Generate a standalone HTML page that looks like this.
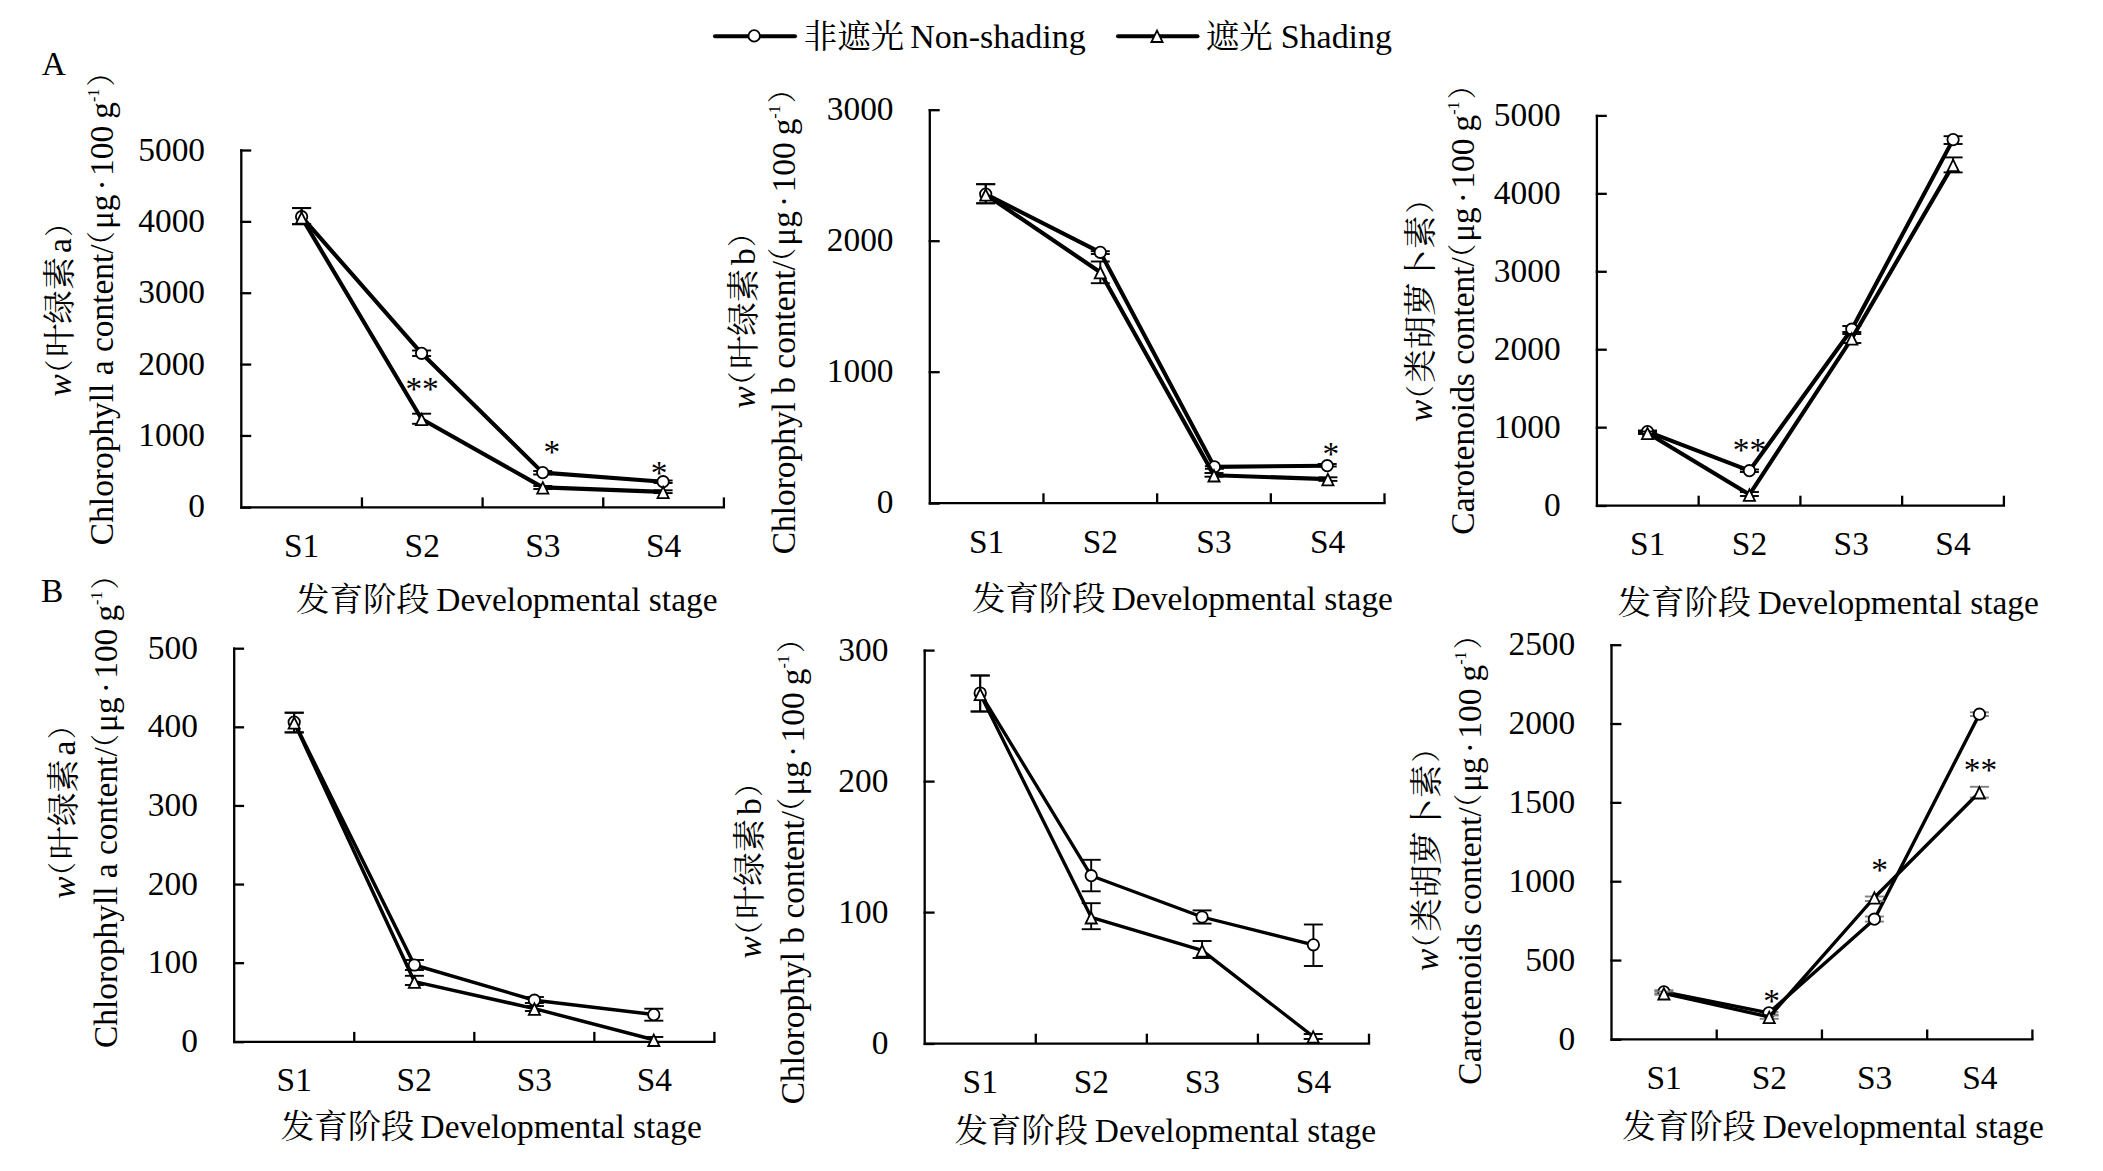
<!DOCTYPE html>
<html><head><meta charset="utf-8"><title>Figure</title>
<style>
html,body{margin:0;padding:0;background:#fff;overflow:hidden;}
svg{display:block;}
svg{font-family:'Liberation Serif',serif;fill:#000;}
</style></head>
<body>
<svg width="2103" height="1171" viewBox="0 0 2103 1171">
<rect width="2103" height="1171" fill="#fff"/>
<line x1="241.3" y1="149.35" x2="241.3" y2="508.45" stroke="#000" stroke-width="2.3" stroke-linecap="butt"/>
<line x1="240.15" y1="507.7" x2="251.2" y2="507.7" stroke="#000" stroke-width="2.3" stroke-linecap="butt"/>
<text x="205.07" y="517.4" font-size="33.44" text-anchor="end" >0</text>
<line x1="240.15" y1="435.94" x2="251.2" y2="435.94" stroke="#000" stroke-width="2.3" stroke-linecap="butt"/>
<text x="205.07" y="446.04" font-size="33.44" text-anchor="end" >1000</text>
<line x1="240.15" y1="364.58" x2="251.2" y2="364.58" stroke="#000" stroke-width="2.3" stroke-linecap="butt"/>
<text x="205.07" y="374.68" font-size="33.44" text-anchor="end" >2000</text>
<line x1="240.15" y1="293.22" x2="251.2" y2="293.22" stroke="#000" stroke-width="2.3" stroke-linecap="butt"/>
<text x="205.07" y="303.32" font-size="33.44" text-anchor="end" >3000</text>
<line x1="240.15" y1="221.86" x2="251.2" y2="221.86" stroke="#000" stroke-width="2.3" stroke-linecap="butt"/>
<text x="205.07" y="231.96" font-size="33.44" text-anchor="end" >4000</text>
<line x1="240.15" y1="150.5" x2="251.2" y2="150.5" stroke="#000" stroke-width="2.3" stroke-linecap="butt"/>
<text x="205.07" y="160.6" font-size="33.44" text-anchor="end" >5000</text>
<line x1="241.3" y1="507.3" x2="725.05" y2="507.3" stroke="#000" stroke-width="2.3" stroke-linecap="butt"/>
<line x1="361.95" y1="507.3" x2="361.95" y2="497.4" stroke="#000" stroke-width="2.3" stroke-linecap="butt"/>
<line x1="482.6" y1="507.3" x2="482.6" y2="497.4" stroke="#000" stroke-width="2.3" stroke-linecap="butt"/>
<line x1="603.25" y1="507.3" x2="603.25" y2="497.4" stroke="#000" stroke-width="2.3" stroke-linecap="butt"/>
<line x1="723.9" y1="507.3" x2="723.9" y2="497.4" stroke="#000" stroke-width="2.3" stroke-linecap="butt"/>
<text x="301.62" y="556.9" font-size="33.44" text-anchor="middle" >S1</text>
<text x="422.27" y="556.9" font-size="33.44" text-anchor="middle" >S2</text>
<text x="542.92" y="556.9" font-size="33.44" text-anchor="middle" >S3</text>
<text x="663.58" y="556.9" font-size="33.44" text-anchor="middle" >S4</text>
<text x="296.1" y="611.3" font-size="33.44" text-anchor="start" font-family="'Noto Serif CJK SC','Liberation Serif',serif" >发育阶段</text>
<text x="436.34" y="611.3" font-size="33.44" text-anchor="start" >Developmental stage</text>
<text transform="translate(71.3,0) rotate(-90)"><tspan x="-396.4" y="0" font-family="'Liberation Serif',serif" font-size="33.44" font-style="italic">w</tspan><tspan x="-388.48" y="-1.5" font-family="'Noto Serif CJK SC','Liberation Serif',serif" font-size="29">（</tspan><tspan x="-357.1" y="0" font-family="'Noto Serif CJK SC','Liberation Serif',serif" font-size="33.44">叶绿素</tspan><tspan x="-252.98" y="0" font-family="'Liberation Serif',serif" font-size="33.44">a</tspan><tspan x="-236.94" y="-1.5" font-family="'Noto Serif CJK SC','Liberation Serif',serif" font-size="29">）</tspan></text>
<text transform="translate(113.4,0) rotate(-90)"><tspan x="-545.17" y="0" font-family="'Liberation Serif',serif" font-size="33.44">Chlorophyll a content/</tspan><tspan x="-260.14" y="-1.5" font-family="'Noto Serif CJK SC','Liberation Serif',serif" font-size="29">（</tspan><tspan x="-229.07" y="0" font-family="'Liberation Serif',serif" font-size="33.44">μg</tspan><tspan x="-190.45" y="0" font-family="'Liberation Serif',serif" font-size="33.44">·</tspan><tspan x="-175.9" y="0" font-family="'Liberation Serif',serif" font-size="33.44">100</tspan><tspan x="-118.7" y="0" font-family="'Liberation Serif',serif" font-size="33.44">g</tspan><tspan x="-102.05" y="-14.7" font-family="'Liberation Serif',serif" font-size="16">-1</tspan><tspan x="-86.59" y="-1.5" font-family="'Noto Serif CJK SC','Liberation Serif',serif" font-size="29">）</tspan></text>
<line x1="301.6" y1="208.1" x2="301.6" y2="224.2" stroke="#000" stroke-width="1.9" stroke-linecap="butt"/>
<line x1="292.1" y1="208.1" x2="311.1" y2="208.1" stroke="#000" stroke-width="1.9" stroke-linecap="butt"/>
<line x1="292.1" y1="224.2" x2="311.1" y2="224.2" stroke="#000" stroke-width="1.9" stroke-linecap="butt"/>
<line x1="421.6" y1="350.5" x2="421.6" y2="356" stroke="#000" stroke-width="1.9" stroke-linecap="butt"/>
<line x1="412.1" y1="350.5" x2="431.1" y2="350.5" stroke="#000" stroke-width="1.9" stroke-linecap="butt"/>
<line x1="412.1" y1="356" x2="431.1" y2="356" stroke="#000" stroke-width="1.9" stroke-linecap="butt"/>
<line x1="542.7" y1="471" x2="542.7" y2="474.5" stroke="#000" stroke-width="1.9" stroke-linecap="butt"/>
<line x1="533.2" y1="471" x2="552.2" y2="471" stroke="#000" stroke-width="1.9" stroke-linecap="butt"/>
<line x1="533.2" y1="474.5" x2="552.2" y2="474.5" stroke="#000" stroke-width="1.9" stroke-linecap="butt"/>
<line x1="663.1" y1="480.5" x2="663.1" y2="483" stroke="#000" stroke-width="1.9" stroke-linecap="butt"/>
<line x1="653.6" y1="480.5" x2="672.6" y2="480.5" stroke="#000" stroke-width="1.9" stroke-linecap="butt"/>
<line x1="653.6" y1="483" x2="672.6" y2="483" stroke="#000" stroke-width="1.9" stroke-linecap="butt"/>
<polyline points="301.6,216.7 421.6,353.3 542.7,472.6 663.1,481.7" fill="none" stroke="#000" stroke-width="4.1" stroke-linejoin="round" stroke-linecap="butt"/>
<circle cx="301.6" cy="216.7" r="5.7" fill="#fff" stroke="#000" stroke-width="1.8"/>
<circle cx="421.6" cy="353.3" r="5.7" fill="#fff" stroke="#000" stroke-width="1.8"/>
<circle cx="542.7" cy="472.6" r="5.7" fill="#fff" stroke="#000" stroke-width="1.8"/>
<circle cx="663.1" cy="481.7" r="5.7" fill="#fff" stroke="#000" stroke-width="1.8"/>
<line x1="301.6" y1="208.1" x2="301.6" y2="224.2" stroke="#000" stroke-width="1.9" stroke-linecap="butt"/>
<line x1="292.1" y1="208.1" x2="311.1" y2="208.1" stroke="#000" stroke-width="1.9" stroke-linecap="butt"/>
<line x1="292.1" y1="224.2" x2="311.1" y2="224.2" stroke="#000" stroke-width="1.9" stroke-linecap="butt"/>
<line x1="421.6" y1="413.7" x2="421.6" y2="423.8" stroke="#000" stroke-width="1.9" stroke-linecap="butt"/>
<line x1="412.1" y1="413.7" x2="431.1" y2="413.7" stroke="#000" stroke-width="1.9" stroke-linecap="butt"/>
<line x1="412.1" y1="423.8" x2="431.1" y2="423.8" stroke="#000" stroke-width="1.9" stroke-linecap="butt"/>
<line x1="542.8" y1="486" x2="542.8" y2="489" stroke="#000" stroke-width="1.9" stroke-linecap="butt"/>
<line x1="533.3" y1="486" x2="552.3" y2="486" stroke="#000" stroke-width="1.9" stroke-linecap="butt"/>
<line x1="533.3" y1="489" x2="552.3" y2="489" stroke="#000" stroke-width="1.9" stroke-linecap="butt"/>
<line x1="663.1" y1="490.3" x2="663.1" y2="493.1" stroke="#000" stroke-width="1.9" stroke-linecap="butt"/>
<line x1="653.6" y1="490.3" x2="672.6" y2="490.3" stroke="#000" stroke-width="1.9" stroke-linecap="butt"/>
<line x1="653.6" y1="493.1" x2="672.6" y2="493.1" stroke="#000" stroke-width="1.9" stroke-linecap="butt"/>
<polyline points="301.6,217.5 421.6,419 542.8,487.4 663.1,491.9" fill="none" stroke="#000" stroke-width="4.1" stroke-linejoin="round" stroke-linecap="butt"/>
<polygon points="301.6,212.3 307.2,223.7 296,223.7" fill="#fff" stroke="#000" stroke-width="1.8" stroke-linejoin="miter"/>
<polygon points="421.6,413.8 427.2,425.2 416,425.2" fill="#fff" stroke="#000" stroke-width="1.8" stroke-linejoin="miter"/>
<polygon points="542.8,482.2 548.4,493.6 537.2,493.6" fill="#fff" stroke="#000" stroke-width="1.8" stroke-linejoin="miter"/>
<polygon points="663.1,486.7 668.7,498.1 657.5,498.1" fill="#fff" stroke="#000" stroke-width="1.8" stroke-linejoin="miter"/>
<text x="422.1" y="399.52" font-size="33.44" text-anchor="middle" >**</text>
<text x="551.9" y="462.72" font-size="33.44" text-anchor="middle" >*</text>
<text x="659.2" y="483.57" font-size="33.44" text-anchor="middle" >*</text>
<line x1="929.8" y1="109.05" x2="929.8" y2="504.35" stroke="#000" stroke-width="2.3" stroke-linecap="butt"/>
<line x1="928.65" y1="503.6" x2="939.7" y2="503.6" stroke="#000" stroke-width="2.3" stroke-linecap="butt"/>
<text x="893.57" y="513.3" font-size="33.44" text-anchor="end" >0</text>
<line x1="928.65" y1="372.2" x2="939.7" y2="372.2" stroke="#000" stroke-width="2.3" stroke-linecap="butt"/>
<text x="893.57" y="382.3" font-size="33.44" text-anchor="end" >1000</text>
<line x1="928.65" y1="241.2" x2="939.7" y2="241.2" stroke="#000" stroke-width="2.3" stroke-linecap="butt"/>
<text x="893.57" y="251.3" font-size="33.44" text-anchor="end" >2000</text>
<line x1="928.65" y1="110.2" x2="939.7" y2="110.2" stroke="#000" stroke-width="2.3" stroke-linecap="butt"/>
<text x="893.57" y="120.3" font-size="33.44" text-anchor="end" >3000</text>
<line x1="929.8" y1="503.2" x2="1385.65" y2="503.2" stroke="#000" stroke-width="2.3" stroke-linecap="butt"/>
<line x1="1043.47" y1="503.2" x2="1043.47" y2="493.3" stroke="#000" stroke-width="2.3" stroke-linecap="butt"/>
<line x1="1157.15" y1="503.2" x2="1157.15" y2="493.3" stroke="#000" stroke-width="2.3" stroke-linecap="butt"/>
<line x1="1270.83" y1="503.2" x2="1270.83" y2="493.3" stroke="#000" stroke-width="2.3" stroke-linecap="butt"/>
<line x1="1384.5" y1="503.2" x2="1384.5" y2="493.3" stroke="#000" stroke-width="2.3" stroke-linecap="butt"/>
<text x="986.64" y="552.8" font-size="33.44" text-anchor="middle" >S1</text>
<text x="1100.31" y="552.8" font-size="33.44" text-anchor="middle" >S2</text>
<text x="1213.99" y="552.8" font-size="33.44" text-anchor="middle" >S3</text>
<text x="1327.66" y="552.8" font-size="33.44" text-anchor="middle" >S4</text>
<text x="972" y="609.5" font-size="33.44" text-anchor="start" font-family="'Noto Serif CJK SC','Liberation Serif',serif" >发育阶段</text>
<text x="1111.74" y="609.5" font-size="33.44" text-anchor="start" >Developmental stage</text>
<text transform="translate(754.5,0) rotate(-90)"><tspan x="-408.4" y="0" font-family="'Liberation Serif',serif" font-size="33.44" font-style="italic">w</tspan><tspan x="-400.48" y="-1.5" font-family="'Noto Serif CJK SC','Liberation Serif',serif" font-size="29">（</tspan><tspan x="-369.1" y="0" font-family="'Noto Serif CJK SC','Liberation Serif',serif" font-size="33.44">叶绿素</tspan><tspan x="-264.98" y="0" font-family="'Liberation Serif',serif" font-size="33.44">b</tspan><tspan x="-247.06" y="-1.5" font-family="'Noto Serif CJK SC','Liberation Serif',serif" font-size="29">）</tspan></text>
<text transform="translate(794.7,0) rotate(-90)"><tspan x="-554.37" y="0" font-family="'Liberation Serif',serif" font-size="33.44">Chlorophyl b content/</tspan><tspan x="-276.75" y="-1.5" font-family="'Noto Serif CJK SC','Liberation Serif',serif" font-size="29">（</tspan><tspan x="-245.68" y="0" font-family="'Liberation Serif',serif" font-size="33.44">μg</tspan><tspan x="-207.07" y="0" font-family="'Liberation Serif',serif" font-size="33.44">·</tspan><tspan x="-192.51" y="0" font-family="'Liberation Serif',serif" font-size="33.44">100</tspan><tspan x="-135.31" y="0" font-family="'Liberation Serif',serif" font-size="33.44">g</tspan><tspan x="-118.67" y="-14.7" font-family="'Liberation Serif',serif" font-size="16">-1</tspan><tspan x="-103.2" y="-1.5" font-family="'Noto Serif CJK SC','Liberation Serif',serif" font-size="29">）</tspan></text>
<line x1="985.7" y1="184.2" x2="985.7" y2="203.3" stroke="#000" stroke-width="1.9" stroke-linecap="butt"/>
<line x1="976.2" y1="184.2" x2="995.2" y2="184.2" stroke="#000" stroke-width="1.9" stroke-linecap="butt"/>
<line x1="976.2" y1="203.3" x2="995.2" y2="203.3" stroke="#000" stroke-width="1.9" stroke-linecap="butt"/>
<line x1="1100.3" y1="251.2" x2="1100.3" y2="254" stroke="#000" stroke-width="1.9" stroke-linecap="butt"/>
<line x1="1090.8" y1="251.2" x2="1109.8" y2="251.2" stroke="#000" stroke-width="1.9" stroke-linecap="butt"/>
<line x1="1090.8" y1="254" x2="1109.8" y2="254" stroke="#000" stroke-width="1.9" stroke-linecap="butt"/>
<line x1="1214.4" y1="466.2" x2="1214.4" y2="468.8" stroke="#000" stroke-width="1.9" stroke-linecap="butt"/>
<line x1="1204.9" y1="466.2" x2="1223.9" y2="466.2" stroke="#000" stroke-width="1.9" stroke-linecap="butt"/>
<line x1="1204.9" y1="468.8" x2="1223.9" y2="468.8" stroke="#000" stroke-width="1.9" stroke-linecap="butt"/>
<line x1="1327.2" y1="464" x2="1327.2" y2="466.5" stroke="#000" stroke-width="1.9" stroke-linecap="butt"/>
<line x1="1317.7" y1="464" x2="1336.7" y2="464" stroke="#000" stroke-width="1.9" stroke-linecap="butt"/>
<line x1="1317.7" y1="466.5" x2="1336.7" y2="466.5" stroke="#000" stroke-width="1.9" stroke-linecap="butt"/>
<polyline points="985.7,194.1 1100.3,252.3 1214.4,466.9 1327.2,465.7" fill="none" stroke="#000" stroke-width="4.1" stroke-linejoin="round" stroke-linecap="butt"/>
<circle cx="985.7" cy="194.1" r="5.7" fill="#fff" stroke="#000" stroke-width="1.8"/>
<circle cx="1100.3" cy="252.3" r="5.7" fill="#fff" stroke="#000" stroke-width="1.8"/>
<circle cx="1214.4" cy="466.9" r="5.7" fill="#fff" stroke="#000" stroke-width="1.8"/>
<circle cx="1327.2" cy="465.7" r="5.7" fill="#fff" stroke="#000" stroke-width="1.8"/>
<line x1="985.7" y1="184.2" x2="985.7" y2="203.3" stroke="#000" stroke-width="1.9" stroke-linecap="butt"/>
<line x1="976.2" y1="184.2" x2="995.2" y2="184.2" stroke="#000" stroke-width="1.9" stroke-linecap="butt"/>
<line x1="976.2" y1="203.3" x2="995.2" y2="203.3" stroke="#000" stroke-width="1.9" stroke-linecap="butt"/>
<line x1="1100.3" y1="261.5" x2="1100.3" y2="283.2" stroke="#000" stroke-width="1.9" stroke-linecap="butt"/>
<line x1="1090.8" y1="261.5" x2="1109.8" y2="261.5" stroke="#000" stroke-width="1.9" stroke-linecap="butt"/>
<line x1="1090.8" y1="283.2" x2="1109.8" y2="283.2" stroke="#000" stroke-width="1.9" stroke-linecap="butt"/>
<line x1="1214" y1="473" x2="1214" y2="476.7" stroke="#000" stroke-width="1.9" stroke-linecap="butt"/>
<line x1="1204.5" y1="473" x2="1223.5" y2="473" stroke="#000" stroke-width="1.9" stroke-linecap="butt"/>
<line x1="1204.5" y1="476.7" x2="1223.5" y2="476.7" stroke="#000" stroke-width="1.9" stroke-linecap="butt"/>
<line x1="1327.9" y1="477.3" x2="1327.9" y2="480.9" stroke="#000" stroke-width="1.9" stroke-linecap="butt"/>
<line x1="1318.4" y1="477.3" x2="1337.4" y2="477.3" stroke="#000" stroke-width="1.9" stroke-linecap="butt"/>
<line x1="1318.4" y1="480.9" x2="1337.4" y2="480.9" stroke="#000" stroke-width="1.9" stroke-linecap="butt"/>
<polyline points="985.7,194.5 1100.3,272.2 1214,475.3 1327.9,479.1" fill="none" stroke="#000" stroke-width="4.1" stroke-linejoin="round" stroke-linecap="butt"/>
<polygon points="985.7,189.3 991.3,200.7 980.1,200.7" fill="#fff" stroke="#000" stroke-width="1.8" stroke-linejoin="miter"/>
<polygon points="1100.3,267 1105.9,278.4 1094.7,278.4" fill="#fff" stroke="#000" stroke-width="1.8" stroke-linejoin="miter"/>
<polygon points="1214,470.1 1219.6,481.5 1208.4,481.5" fill="#fff" stroke="#000" stroke-width="1.8" stroke-linejoin="miter"/>
<polygon points="1327.9,473.9 1333.5,485.3 1322.3,485.3" fill="#fff" stroke="#000" stroke-width="1.8" stroke-linejoin="miter"/>
<text x="1330.9" y="465.07" font-size="33.44" text-anchor="middle" >*</text>
<line x1="1596.9" y1="114.75" x2="1596.9" y2="506.75" stroke="#000" stroke-width="2.3" stroke-linecap="butt"/>
<line x1="1595.75" y1="506" x2="1606.8" y2="506" stroke="#000" stroke-width="2.3" stroke-linecap="butt"/>
<text x="1560.67" y="515.7" font-size="33.44" text-anchor="end" >0</text>
<line x1="1595.75" y1="427.66" x2="1606.8" y2="427.66" stroke="#000" stroke-width="2.3" stroke-linecap="butt"/>
<text x="1560.67" y="437.76" font-size="33.44" text-anchor="end" >1000</text>
<line x1="1595.75" y1="349.72" x2="1606.8" y2="349.72" stroke="#000" stroke-width="2.3" stroke-linecap="butt"/>
<text x="1560.67" y="359.82" font-size="33.44" text-anchor="end" >2000</text>
<line x1="1595.75" y1="271.78" x2="1606.8" y2="271.78" stroke="#000" stroke-width="2.3" stroke-linecap="butt"/>
<text x="1560.67" y="281.88" font-size="33.44" text-anchor="end" >3000</text>
<line x1="1595.75" y1="193.84" x2="1606.8" y2="193.84" stroke="#000" stroke-width="2.3" stroke-linecap="butt"/>
<text x="1560.67" y="203.94" font-size="33.44" text-anchor="end" >4000</text>
<line x1="1595.75" y1="115.9" x2="1606.8" y2="115.9" stroke="#000" stroke-width="2.3" stroke-linecap="butt"/>
<text x="1560.67" y="126" font-size="33.44" text-anchor="end" >5000</text>
<line x1="1596.9" y1="505.6" x2="2005.05" y2="505.6" stroke="#000" stroke-width="2.3" stroke-linecap="butt"/>
<line x1="1698.65" y1="505.6" x2="1698.65" y2="495.7" stroke="#000" stroke-width="2.3" stroke-linecap="butt"/>
<line x1="1800.4" y1="505.6" x2="1800.4" y2="495.7" stroke="#000" stroke-width="2.3" stroke-linecap="butt"/>
<line x1="1902.15" y1="505.6" x2="1902.15" y2="495.7" stroke="#000" stroke-width="2.3" stroke-linecap="butt"/>
<line x1="2003.9" y1="505.6" x2="2003.9" y2="495.7" stroke="#000" stroke-width="2.3" stroke-linecap="butt"/>
<text x="1647.78" y="555.2" font-size="33.44" text-anchor="middle" >S1</text>
<text x="1749.53" y="555.2" font-size="33.44" text-anchor="middle" >S2</text>
<text x="1851.28" y="555.2" font-size="33.44" text-anchor="middle" >S3</text>
<text x="1953.03" y="555.2" font-size="33.44" text-anchor="middle" >S4</text>
<text x="1617.6" y="613.9" font-size="33.44" text-anchor="start" font-family="'Noto Serif CJK SC','Liberation Serif',serif" >发育阶段</text>
<text x="1757.64" y="613.9" font-size="33.44" text-anchor="start" >Developmental stage</text>
<text transform="translate(1432.1,0) rotate(-90)"><tspan x="-422.1" y="0" font-family="'Liberation Serif',serif" font-size="33.44" font-style="italic">w</tspan><tspan x="-414.18" y="-1.5" font-family="'Noto Serif CJK SC','Liberation Serif',serif" font-size="29">（</tspan><tspan x="-382.8" y="0" font-family="'Noto Serif CJK SC','Liberation Serif',serif" font-size="33.44">类胡萝卜素</tspan><tspan x="-213.6" y="-1.5" font-family="'Noto Serif CJK SC','Liberation Serif',serif" font-size="29">）</tspan></text>
<text transform="translate(1474,0) rotate(-90)"><tspan x="-534.67" y="0" font-family="'Liberation Serif',serif" font-size="33.44">Carotenoids content/</tspan><tspan x="-272.87" y="-1.5" font-family="'Noto Serif CJK SC','Liberation Serif',serif" font-size="29">（</tspan><tspan x="-241.81" y="0" font-family="'Liberation Serif',serif" font-size="33.44">μg</tspan><tspan x="-203.19" y="0" font-family="'Liberation Serif',serif" font-size="33.44">·</tspan><tspan x="-188.63" y="0" font-family="'Liberation Serif',serif" font-size="33.44">100</tspan><tspan x="-131.43" y="0" font-family="'Liberation Serif',serif" font-size="33.44">g</tspan><tspan x="-114.79" y="-14.7" font-family="'Liberation Serif',serif" font-size="16">-1</tspan><tspan x="-99.32" y="-1.5" font-family="'Noto Serif CJK SC','Liberation Serif',serif" font-size="29">）</tspan></text>
<line x1="1647.5" y1="430.5" x2="1647.5" y2="433" stroke="#000" stroke-width="1.9" stroke-linecap="butt"/>
<line x1="1638" y1="430.5" x2="1657" y2="430.5" stroke="#000" stroke-width="1.9" stroke-linecap="butt"/>
<line x1="1638" y1="433" x2="1657" y2="433" stroke="#000" stroke-width="1.9" stroke-linecap="butt"/>
<line x1="1749.4" y1="469.5" x2="1749.4" y2="472" stroke="#000" stroke-width="1.9" stroke-linecap="butt"/>
<line x1="1739.9" y1="469.5" x2="1758.9" y2="469.5" stroke="#000" stroke-width="1.9" stroke-linecap="butt"/>
<line x1="1739.9" y1="472" x2="1758.9" y2="472" stroke="#000" stroke-width="1.9" stroke-linecap="butt"/>
<line x1="1851.8" y1="326" x2="1851.8" y2="332" stroke="#000" stroke-width="1.9" stroke-linecap="butt"/>
<line x1="1842.3" y1="326" x2="1861.3" y2="326" stroke="#000" stroke-width="1.9" stroke-linecap="butt"/>
<line x1="1842.3" y1="332" x2="1861.3" y2="332" stroke="#000" stroke-width="1.9" stroke-linecap="butt"/>
<line x1="1953.1" y1="136.2" x2="1953.1" y2="144" stroke="#000" stroke-width="1.9" stroke-linecap="butt"/>
<line x1="1943.6" y1="136.2" x2="1962.6" y2="136.2" stroke="#000" stroke-width="1.9" stroke-linecap="butt"/>
<line x1="1943.6" y1="144" x2="1962.6" y2="144" stroke="#000" stroke-width="1.9" stroke-linecap="butt"/>
<polyline points="1647.5,431.6 1749.4,470.7 1851.8,329.2 1953.1,139.6" fill="none" stroke="#000" stroke-width="4.1" stroke-linejoin="round" stroke-linecap="butt"/>
<circle cx="1647.5" cy="431.6" r="5.7" fill="#fff" stroke="#000" stroke-width="1.8"/>
<circle cx="1749.4" cy="470.7" r="5.7" fill="#fff" stroke="#000" stroke-width="1.8"/>
<circle cx="1851.8" cy="329.2" r="5.7" fill="#fff" stroke="#000" stroke-width="1.8"/>
<circle cx="1953.1" cy="139.6" r="5.7" fill="#fff" stroke="#000" stroke-width="1.8"/>
<line x1="1647.5" y1="431.5" x2="1647.5" y2="434" stroke="#000" stroke-width="1.9" stroke-linecap="butt"/>
<line x1="1638" y1="431.5" x2="1657" y2="431.5" stroke="#000" stroke-width="1.9" stroke-linecap="butt"/>
<line x1="1638" y1="434" x2="1657" y2="434" stroke="#000" stroke-width="1.9" stroke-linecap="butt"/>
<line x1="1749.4" y1="492" x2="1749.4" y2="496" stroke="#000" stroke-width="1.9" stroke-linecap="butt"/>
<line x1="1739.9" y1="492" x2="1758.9" y2="492" stroke="#000" stroke-width="1.9" stroke-linecap="butt"/>
<line x1="1739.9" y1="496" x2="1758.9" y2="496" stroke="#000" stroke-width="1.9" stroke-linecap="butt"/>
<line x1="1851.8" y1="334" x2="1851.8" y2="343" stroke="#000" stroke-width="1.9" stroke-linecap="butt"/>
<line x1="1842.3" y1="334" x2="1861.3" y2="334" stroke="#000" stroke-width="1.9" stroke-linecap="butt"/>
<line x1="1842.3" y1="343" x2="1861.3" y2="343" stroke="#000" stroke-width="1.9" stroke-linecap="butt"/>
<line x1="1953.1" y1="157.4" x2="1953.1" y2="172.4" stroke="#000" stroke-width="1.9" stroke-linecap="butt"/>
<line x1="1943.6" y1="157.4" x2="1962.6" y2="157.4" stroke="#000" stroke-width="1.9" stroke-linecap="butt"/>
<line x1="1943.6" y1="172.4" x2="1962.6" y2="172.4" stroke="#000" stroke-width="1.9" stroke-linecap="butt"/>
<polyline points="1647.5,433 1749.4,494.6 1851.8,338.5 1953.1,164.9" fill="none" stroke="#000" stroke-width="4.1" stroke-linejoin="round" stroke-linecap="butt"/>
<polygon points="1647.5,427.8 1653.1,439.2 1641.9,439.2" fill="#fff" stroke="#000" stroke-width="1.8" stroke-linejoin="miter"/>
<polygon points="1749.4,489.4 1755,500.8 1743.8,500.8" fill="#fff" stroke="#000" stroke-width="1.8" stroke-linejoin="miter"/>
<polygon points="1851.8,333.3 1857.4,344.7 1846.2,344.7" fill="#fff" stroke="#000" stroke-width="1.8" stroke-linejoin="miter"/>
<polygon points="1953.1,159.7 1958.7,171.1 1947.5,171.1" fill="#fff" stroke="#000" stroke-width="1.8" stroke-linejoin="miter"/>
<text x="1749.4" y="460.87" font-size="33.44" text-anchor="middle" >**</text>
<line x1="234.2" y1="647.55" x2="234.2" y2="1042.95" stroke="#000" stroke-width="2.3" stroke-linecap="butt"/>
<line x1="233.05" y1="1042.2" x2="244.1" y2="1042.2" stroke="#000" stroke-width="2.3" stroke-linecap="butt"/>
<text x="197.97" y="1051.9" font-size="33.44" text-anchor="end" >0</text>
<line x1="233.05" y1="963.18" x2="244.1" y2="963.18" stroke="#000" stroke-width="2.3" stroke-linecap="butt"/>
<text x="197.97" y="973.28" font-size="33.44" text-anchor="end" >100</text>
<line x1="233.05" y1="884.56" x2="244.1" y2="884.56" stroke="#000" stroke-width="2.3" stroke-linecap="butt"/>
<text x="197.97" y="894.66" font-size="33.44" text-anchor="end" >200</text>
<line x1="233.05" y1="805.94" x2="244.1" y2="805.94" stroke="#000" stroke-width="2.3" stroke-linecap="butt"/>
<text x="197.97" y="816.04" font-size="33.44" text-anchor="end" >300</text>
<line x1="233.05" y1="727.32" x2="244.1" y2="727.32" stroke="#000" stroke-width="2.3" stroke-linecap="butt"/>
<text x="197.97" y="737.42" font-size="33.44" text-anchor="end" >400</text>
<line x1="233.05" y1="648.7" x2="244.1" y2="648.7" stroke="#000" stroke-width="2.3" stroke-linecap="butt"/>
<text x="197.97" y="658.8" font-size="33.44" text-anchor="end" >500</text>
<line x1="234.2" y1="1041.8" x2="715.55" y2="1041.8" stroke="#000" stroke-width="2.3" stroke-linecap="butt"/>
<line x1="354.25" y1="1041.8" x2="354.25" y2="1031.9" stroke="#000" stroke-width="2.3" stroke-linecap="butt"/>
<line x1="474.3" y1="1041.8" x2="474.3" y2="1031.9" stroke="#000" stroke-width="2.3" stroke-linecap="butt"/>
<line x1="594.35" y1="1041.8" x2="594.35" y2="1031.9" stroke="#000" stroke-width="2.3" stroke-linecap="butt"/>
<line x1="714.4" y1="1041.8" x2="714.4" y2="1031.9" stroke="#000" stroke-width="2.3" stroke-linecap="butt"/>
<text x="294.22" y="1091.4" font-size="33.44" text-anchor="middle" >S1</text>
<text x="414.27" y="1091.4" font-size="33.44" text-anchor="middle" >S2</text>
<text x="534.33" y="1091.4" font-size="33.44" text-anchor="middle" >S3</text>
<text x="654.38" y="1091.4" font-size="33.44" text-anchor="middle" >S4</text>
<text x="280.8" y="1138.1" font-size="33.44" text-anchor="start" font-family="'Noto Serif CJK SC','Liberation Serif',serif" >发育阶段</text>
<text x="420.54" y="1138.1" font-size="33.44" text-anchor="start" >Developmental stage</text>
<text transform="translate(74.6,0) rotate(-90)"><tspan x="-898.8" y="0" font-family="'Liberation Serif',serif" font-size="33.44" font-style="italic">w</tspan><tspan x="-890.88" y="-1.5" font-family="'Noto Serif CJK SC','Liberation Serif',serif" font-size="29">（</tspan><tspan x="-859.5" y="0" font-family="'Noto Serif CJK SC','Liberation Serif',serif" font-size="33.44">叶绿素</tspan><tspan x="-755.38" y="0" font-family="'Liberation Serif',serif" font-size="33.44">a</tspan><tspan x="-739.34" y="-1.5" font-family="'Noto Serif CJK SC','Liberation Serif',serif" font-size="29">）</tspan></text>
<text transform="translate(117.1,0) rotate(-90)"><tspan x="-1048.07" y="0" font-family="'Liberation Serif',serif" font-size="33.44">Chlorophyll a content/</tspan><tspan x="-763.04" y="-1.5" font-family="'Noto Serif CJK SC','Liberation Serif',serif" font-size="29">（</tspan><tspan x="-731.97" y="0" font-family="'Liberation Serif',serif" font-size="33.44">μg</tspan><tspan x="-693.35" y="0" font-family="'Liberation Serif',serif" font-size="33.44">·</tspan><tspan x="-678.8" y="0" font-family="'Liberation Serif',serif" font-size="33.44">100</tspan><tspan x="-621.6" y="0" font-family="'Liberation Serif',serif" font-size="33.44">g</tspan><tspan x="-604.95" y="-14.7" font-family="'Liberation Serif',serif" font-size="16">-1</tspan><tspan x="-589.49" y="-1.5" font-family="'Noto Serif CJK SC','Liberation Serif',serif" font-size="29">）</tspan></text>
<line x1="294.2" y1="712.7" x2="294.2" y2="732.4" stroke="#000" stroke-width="1.9" stroke-linecap="butt"/>
<line x1="284.7" y1="712.7" x2="303.7" y2="712.7" stroke="#000" stroke-width="1.9" stroke-linecap="butt"/>
<line x1="284.7" y1="732.4" x2="303.7" y2="732.4" stroke="#000" stroke-width="1.9" stroke-linecap="butt"/>
<line x1="414.4" y1="960" x2="414.4" y2="970" stroke="#000" stroke-width="1.9" stroke-linecap="butt"/>
<line x1="404.9" y1="960" x2="423.9" y2="960" stroke="#000" stroke-width="1.9" stroke-linecap="butt"/>
<line x1="404.9" y1="970" x2="423.9" y2="970" stroke="#000" stroke-width="1.9" stroke-linecap="butt"/>
<line x1="534.4" y1="997" x2="534.4" y2="1003" stroke="#000" stroke-width="1.9" stroke-linecap="butt"/>
<line x1="524.9" y1="997" x2="543.9" y2="997" stroke="#000" stroke-width="1.9" stroke-linecap="butt"/>
<line x1="524.9" y1="1003" x2="543.9" y2="1003" stroke="#000" stroke-width="1.9" stroke-linecap="butt"/>
<line x1="653.8" y1="1008.7" x2="653.8" y2="1020.7" stroke="#000" stroke-width="1.9" stroke-linecap="butt"/>
<line x1="644.3" y1="1008.7" x2="663.3" y2="1008.7" stroke="#000" stroke-width="1.9" stroke-linecap="butt"/>
<line x1="644.3" y1="1020.7" x2="663.3" y2="1020.7" stroke="#000" stroke-width="1.9" stroke-linecap="butt"/>
<polyline points="294.2,722.1 414.4,965 534.4,1000.2 653.8,1014.6" fill="none" stroke="#000" stroke-width="3.5" stroke-linejoin="round" stroke-linecap="butt"/>
<circle cx="294.2" cy="722.1" r="5.7" fill="#fff" stroke="#000" stroke-width="1.8"/>
<circle cx="414.4" cy="965" r="5.7" fill="#fff" stroke="#000" stroke-width="1.8"/>
<circle cx="534.4" cy="1000.2" r="5.7" fill="#fff" stroke="#000" stroke-width="1.8"/>
<circle cx="653.8" cy="1014.6" r="5.7" fill="#fff" stroke="#000" stroke-width="1.8"/>
<line x1="294.2" y1="712.7" x2="294.2" y2="732.4" stroke="#000" stroke-width="1.9" stroke-linecap="butt"/>
<line x1="284.7" y1="712.7" x2="303.7" y2="712.7" stroke="#000" stroke-width="1.9" stroke-linecap="butt"/>
<line x1="284.7" y1="732.4" x2="303.7" y2="732.4" stroke="#000" stroke-width="1.9" stroke-linecap="butt"/>
<line x1="414.4" y1="975.8" x2="414.4" y2="985" stroke="#000" stroke-width="1.9" stroke-linecap="butt"/>
<line x1="404.9" y1="975.8" x2="423.9" y2="975.8" stroke="#000" stroke-width="1.9" stroke-linecap="butt"/>
<line x1="404.9" y1="985" x2="423.9" y2="985" stroke="#000" stroke-width="1.9" stroke-linecap="butt"/>
<line x1="534.4" y1="1006" x2="534.4" y2="1011" stroke="#000" stroke-width="1.9" stroke-linecap="butt"/>
<line x1="524.9" y1="1006" x2="543.9" y2="1006" stroke="#000" stroke-width="1.9" stroke-linecap="butt"/>
<line x1="524.9" y1="1011" x2="543.9" y2="1011" stroke="#000" stroke-width="1.9" stroke-linecap="butt"/>
<line x1="653.8" y1="1037" x2="653.8" y2="1042" stroke="#000" stroke-width="1.9" stroke-linecap="butt"/>
<line x1="644.3" y1="1037" x2="663.3" y2="1037" stroke="#000" stroke-width="1.9" stroke-linecap="butt"/>
<line x1="644.3" y1="1042" x2="663.3" y2="1042" stroke="#000" stroke-width="1.9" stroke-linecap="butt"/>
<polyline points="294.2,722.5 414.4,981.6 534.4,1008.6 653.8,1039.8" fill="none" stroke="#000" stroke-width="3.5" stroke-linejoin="round" stroke-linecap="butt"/>
<polygon points="294.2,717.3 299.8,728.7 288.6,728.7" fill="#fff" stroke="#000" stroke-width="1.8" stroke-linejoin="miter"/>
<polygon points="414.4,976.4 420,987.8 408.8,987.8" fill="#fff" stroke="#000" stroke-width="1.8" stroke-linejoin="miter"/>
<polygon points="534.4,1003.4 540,1014.8 528.8,1014.8" fill="#fff" stroke="#000" stroke-width="1.8" stroke-linejoin="miter"/>
<polygon points="653.8,1034.6 659.4,1046 648.2,1046" fill="#fff" stroke="#000" stroke-width="1.8" stroke-linejoin="miter"/>
<line x1="924.7" y1="649.45" x2="924.7" y2="1044.75" stroke="#000" stroke-width="2.3" stroke-linecap="butt"/>
<line x1="923.55" y1="1044" x2="934.6" y2="1044" stroke="#000" stroke-width="2.3" stroke-linecap="butt"/>
<text x="888.47" y="1053.7" font-size="33.44" text-anchor="end" >0</text>
<line x1="923.55" y1="912.6" x2="934.6" y2="912.6" stroke="#000" stroke-width="2.3" stroke-linecap="butt"/>
<text x="888.47" y="922.7" font-size="33.44" text-anchor="end" >100</text>
<line x1="923.55" y1="781.6" x2="934.6" y2="781.6" stroke="#000" stroke-width="2.3" stroke-linecap="butt"/>
<text x="888.47" y="791.7" font-size="33.44" text-anchor="end" >200</text>
<line x1="923.55" y1="650.6" x2="934.6" y2="650.6" stroke="#000" stroke-width="2.3" stroke-linecap="butt"/>
<text x="888.47" y="660.7" font-size="33.44" text-anchor="end" >300</text>
<line x1="924.7" y1="1043.6" x2="1370.15" y2="1043.6" stroke="#000" stroke-width="2.3" stroke-linecap="butt"/>
<line x1="1035.78" y1="1043.6" x2="1035.78" y2="1033.7" stroke="#000" stroke-width="2.3" stroke-linecap="butt"/>
<line x1="1146.85" y1="1043.6" x2="1146.85" y2="1033.7" stroke="#000" stroke-width="2.3" stroke-linecap="butt"/>
<line x1="1257.92" y1="1043.6" x2="1257.92" y2="1033.7" stroke="#000" stroke-width="2.3" stroke-linecap="butt"/>
<line x1="1369" y1="1043.6" x2="1369" y2="1033.7" stroke="#000" stroke-width="2.3" stroke-linecap="butt"/>
<text x="980.24" y="1093.2" font-size="33.44" text-anchor="middle" >S1</text>
<text x="1091.31" y="1093.2" font-size="33.44" text-anchor="middle" >S2</text>
<text x="1202.39" y="1093.2" font-size="33.44" text-anchor="middle" >S3</text>
<text x="1313.46" y="1093.2" font-size="33.44" text-anchor="middle" >S4</text>
<text x="954.4" y="1142.4" font-size="33.44" text-anchor="start" font-family="'Noto Serif CJK SC','Liberation Serif',serif" >发育阶段</text>
<text x="1094.84" y="1142.4" font-size="33.44" text-anchor="start" >Developmental stage</text>
<text transform="translate(761,0) rotate(-90)"><tspan x="-958.4" y="0" font-family="'Liberation Serif',serif" font-size="33.44" font-style="italic">w</tspan><tspan x="-950.48" y="-1.5" font-family="'Noto Serif CJK SC','Liberation Serif',serif" font-size="29">（</tspan><tspan x="-919.1" y="0" font-family="'Noto Serif CJK SC','Liberation Serif',serif" font-size="33.44">叶绿素</tspan><tspan x="-814.98" y="0" font-family="'Liberation Serif',serif" font-size="33.44">b</tspan><tspan x="-797.06" y="-1.5" font-family="'Noto Serif CJK SC','Liberation Serif',serif" font-size="29">）</tspan></text>
<text transform="translate(803.7,0) rotate(-90)"><tspan x="-1104.27" y="0" font-family="'Liberation Serif',serif" font-size="33.44">Chlorophyl b content/</tspan><tspan x="-826.65" y="-1.5" font-family="'Noto Serif CJK SC','Liberation Serif',serif" font-size="29">（</tspan><tspan x="-795.58" y="0" font-family="'Liberation Serif',serif" font-size="33.44">μg</tspan><tspan x="-756.97" y="0" font-family="'Liberation Serif',serif" font-size="33.44">·</tspan><tspan x="-742.41" y="0" font-family="'Liberation Serif',serif" font-size="33.44">100</tspan><tspan x="-685.21" y="0" font-family="'Liberation Serif',serif" font-size="33.44">g</tspan><tspan x="-668.57" y="-14.7" font-family="'Liberation Serif',serif" font-size="16">-1</tspan><tspan x="-653.1" y="-1.5" font-family="'Noto Serif CJK SC','Liberation Serif',serif" font-size="29">）</tspan></text>
<line x1="980.2" y1="675.5" x2="980.2" y2="711.5" stroke="#000" stroke-width="1.9" stroke-linecap="butt"/>
<line x1="970.7" y1="675.5" x2="989.7" y2="675.5" stroke="#000" stroke-width="1.9" stroke-linecap="butt"/>
<line x1="970.7" y1="711.5" x2="989.7" y2="711.5" stroke="#000" stroke-width="1.9" stroke-linecap="butt"/>
<line x1="1091.2" y1="859.8" x2="1091.2" y2="891.3" stroke="#000" stroke-width="1.9" stroke-linecap="butt"/>
<line x1="1081.7" y1="859.8" x2="1100.7" y2="859.8" stroke="#000" stroke-width="1.9" stroke-linecap="butt"/>
<line x1="1081.7" y1="891.3" x2="1100.7" y2="891.3" stroke="#000" stroke-width="1.9" stroke-linecap="butt"/>
<line x1="1202.1" y1="910.4" x2="1202.1" y2="923.6" stroke="#000" stroke-width="1.9" stroke-linecap="butt"/>
<line x1="1192.6" y1="910.4" x2="1211.6" y2="910.4" stroke="#000" stroke-width="1.9" stroke-linecap="butt"/>
<line x1="1192.6" y1="923.6" x2="1211.6" y2="923.6" stroke="#000" stroke-width="1.9" stroke-linecap="butt"/>
<line x1="1313.4" y1="924.5" x2="1313.4" y2="966" stroke="#000" stroke-width="1.9" stroke-linecap="butt"/>
<line x1="1303.9" y1="924.5" x2="1322.9" y2="924.5" stroke="#000" stroke-width="1.9" stroke-linecap="butt"/>
<line x1="1303.9" y1="966" x2="1322.9" y2="966" stroke="#000" stroke-width="1.9" stroke-linecap="butt"/>
<polyline points="980.2,693 1091.2,875.7 1202.1,917 1313.4,944.8" fill="none" stroke="#000" stroke-width="3.3" stroke-linejoin="round" stroke-linecap="butt"/>
<circle cx="980.2" cy="693" r="5.7" fill="#fff" stroke="#000" stroke-width="1.8"/>
<circle cx="1091.2" cy="875.7" r="5.7" fill="#fff" stroke="#000" stroke-width="1.8"/>
<circle cx="1202.1" cy="917" r="5.7" fill="#fff" stroke="#000" stroke-width="1.8"/>
<circle cx="1313.4" cy="944.8" r="5.7" fill="#fff" stroke="#000" stroke-width="1.8"/>
<line x1="980.2" y1="675.5" x2="980.2" y2="711.5" stroke="#000" stroke-width="1.9" stroke-linecap="butt"/>
<line x1="970.7" y1="675.5" x2="989.7" y2="675.5" stroke="#000" stroke-width="1.9" stroke-linecap="butt"/>
<line x1="970.7" y1="711.5" x2="989.7" y2="711.5" stroke="#000" stroke-width="1.9" stroke-linecap="butt"/>
<line x1="1091.2" y1="903.2" x2="1091.2" y2="929.2" stroke="#000" stroke-width="1.9" stroke-linecap="butt"/>
<line x1="1081.7" y1="903.2" x2="1100.7" y2="903.2" stroke="#000" stroke-width="1.9" stroke-linecap="butt"/>
<line x1="1081.7" y1="929.2" x2="1100.7" y2="929.2" stroke="#000" stroke-width="1.9" stroke-linecap="butt"/>
<line x1="1202.1" y1="941" x2="1202.1" y2="958" stroke="#000" stroke-width="1.9" stroke-linecap="butt"/>
<line x1="1192.6" y1="941" x2="1211.6" y2="941" stroke="#000" stroke-width="1.9" stroke-linecap="butt"/>
<line x1="1192.6" y1="958" x2="1211.6" y2="958" stroke="#000" stroke-width="1.9" stroke-linecap="butt"/>
<line x1="1313.2" y1="1034" x2="1313.2" y2="1039" stroke="#000" stroke-width="1.9" stroke-linecap="butt"/>
<line x1="1303.7" y1="1034" x2="1322.7" y2="1034" stroke="#000" stroke-width="1.9" stroke-linecap="butt"/>
<line x1="1303.7" y1="1039" x2="1322.7" y2="1039" stroke="#000" stroke-width="1.9" stroke-linecap="butt"/>
<polyline points="980.2,694 1091.2,917.3 1202.1,950.4 1313.2,1036.5" fill="none" stroke="#000" stroke-width="3.3" stroke-linejoin="round" stroke-linecap="butt"/>
<polygon points="980.2,688.8 985.8,700.2 974.6,700.2" fill="#fff" stroke="#000" stroke-width="1.8" stroke-linejoin="miter"/>
<polygon points="1091.2,912.1 1096.8,923.5 1085.6,923.5" fill="#fff" stroke="#000" stroke-width="1.8" stroke-linejoin="miter"/>
<polygon points="1202.1,945.2 1207.7,956.6 1196.5,956.6" fill="#fff" stroke="#000" stroke-width="1.8" stroke-linejoin="miter"/>
<polygon points="1313.2,1031.3 1318.8,1042.7 1307.6,1042.7" fill="#fff" stroke="#000" stroke-width="1.8" stroke-linejoin="miter"/>
<line x1="1611.5" y1="644.05" x2="1611.5" y2="1040.55" stroke="#000" stroke-width="2.3" stroke-linecap="butt"/>
<line x1="1610.35" y1="1039.8" x2="1621.4" y2="1039.8" stroke="#000" stroke-width="2.3" stroke-linecap="butt"/>
<text x="1575.27" y="1049.5" font-size="33.44" text-anchor="end" >0</text>
<line x1="1610.35" y1="960.56" x2="1621.4" y2="960.56" stroke="#000" stroke-width="2.3" stroke-linecap="butt"/>
<text x="1575.27" y="970.66" font-size="33.44" text-anchor="end" >500</text>
<line x1="1610.35" y1="881.72" x2="1621.4" y2="881.72" stroke="#000" stroke-width="2.3" stroke-linecap="butt"/>
<text x="1575.27" y="891.82" font-size="33.44" text-anchor="end" >1000</text>
<line x1="1610.35" y1="802.88" x2="1621.4" y2="802.88" stroke="#000" stroke-width="2.3" stroke-linecap="butt"/>
<text x="1575.27" y="812.98" font-size="33.44" text-anchor="end" >1500</text>
<line x1="1610.35" y1="724.04" x2="1621.4" y2="724.04" stroke="#000" stroke-width="2.3" stroke-linecap="butt"/>
<text x="1575.27" y="734.14" font-size="33.44" text-anchor="end" >2000</text>
<line x1="1610.35" y1="645.2" x2="1621.4" y2="645.2" stroke="#000" stroke-width="2.3" stroke-linecap="butt"/>
<text x="1575.27" y="655.3" font-size="33.44" text-anchor="end" >2500</text>
<line x1="1611.5" y1="1039.4" x2="2033.55" y2="1039.4" stroke="#000" stroke-width="2.3" stroke-linecap="butt"/>
<line x1="1716.72" y1="1039.4" x2="1716.72" y2="1029.5" stroke="#000" stroke-width="2.3" stroke-linecap="butt"/>
<line x1="1821.95" y1="1039.4" x2="1821.95" y2="1029.5" stroke="#000" stroke-width="2.3" stroke-linecap="butt"/>
<line x1="1927.18" y1="1039.4" x2="1927.18" y2="1029.5" stroke="#000" stroke-width="2.3" stroke-linecap="butt"/>
<line x1="2032.4" y1="1039.4" x2="2032.4" y2="1029.5" stroke="#000" stroke-width="2.3" stroke-linecap="butt"/>
<text x="1664.11" y="1089" font-size="33.44" text-anchor="middle" >S1</text>
<text x="1769.34" y="1089" font-size="33.44" text-anchor="middle" >S2</text>
<text x="1874.56" y="1089" font-size="33.44" text-anchor="middle" >S3</text>
<text x="1979.79" y="1089" font-size="33.44" text-anchor="middle" >S4</text>
<text x="1622.3" y="1138.1" font-size="33.44" text-anchor="start" font-family="'Noto Serif CJK SC','Liberation Serif',serif" >发育阶段</text>
<text x="1762.64" y="1138.1" font-size="33.44" text-anchor="start" >Developmental stage</text>
<text transform="translate(1438.1,0) rotate(-90)"><tspan x="-971.1" y="0" font-family="'Liberation Serif',serif" font-size="33.44" font-style="italic">w</tspan><tspan x="-963.18" y="-1.5" font-family="'Noto Serif CJK SC','Liberation Serif',serif" font-size="29">（</tspan><tspan x="-931.8" y="0" font-family="'Noto Serif CJK SC','Liberation Serif',serif" font-size="33.44">类胡萝卜素</tspan><tspan x="-762.6" y="-1.5" font-family="'Noto Serif CJK SC','Liberation Serif',serif" font-size="29">）</tspan></text>
<text transform="translate(1480.6,0) rotate(-90)"><tspan x="-1084.67" y="0" font-family="'Liberation Serif',serif" font-size="33.44">Carotenoids content/</tspan><tspan x="-822.87" y="-1.5" font-family="'Noto Serif CJK SC','Liberation Serif',serif" font-size="29">（</tspan><tspan x="-791.81" y="0" font-family="'Liberation Serif',serif" font-size="33.44">μg</tspan><tspan x="-753.19" y="0" font-family="'Liberation Serif',serif" font-size="33.44">·</tspan><tspan x="-738.63" y="0" font-family="'Liberation Serif',serif" font-size="33.44">100</tspan><tspan x="-681.43" y="0" font-family="'Liberation Serif',serif" font-size="33.44">g</tspan><tspan x="-664.79" y="-14.7" font-family="'Liberation Serif',serif" font-size="16">-1</tspan><tspan x="-649.32" y="-1.5" font-family="'Noto Serif CJK SC','Liberation Serif',serif" font-size="29">）</tspan></text>
<line x1="1663.9" y1="990.2" x2="1663.9" y2="993.5" stroke="#7f7f7f" stroke-width="1.9" stroke-linecap="butt"/>
<line x1="1654.4" y1="990.2" x2="1673.4" y2="990.2" stroke="#7f7f7f" stroke-width="1.9" stroke-linecap="butt"/>
<line x1="1654.4" y1="993.5" x2="1673.4" y2="993.5" stroke="#7f7f7f" stroke-width="1.9" stroke-linecap="butt"/>
<line x1="1768.9" y1="1011.9" x2="1768.9" y2="1014.5" stroke="#7f7f7f" stroke-width="1.9" stroke-linecap="butt"/>
<line x1="1759.4" y1="1011.9" x2="1778.4" y2="1011.9" stroke="#7f7f7f" stroke-width="1.9" stroke-linecap="butt"/>
<line x1="1759.4" y1="1014.5" x2="1778.4" y2="1014.5" stroke="#7f7f7f" stroke-width="1.9" stroke-linecap="butt"/>
<line x1="1874.4" y1="916.5" x2="1874.4" y2="921.6" stroke="#7f7f7f" stroke-width="1.9" stroke-linecap="butt"/>
<line x1="1864.9" y1="916.5" x2="1883.9" y2="916.5" stroke="#7f7f7f" stroke-width="1.9" stroke-linecap="butt"/>
<line x1="1864.9" y1="921.6" x2="1883.9" y2="921.6" stroke="#7f7f7f" stroke-width="1.9" stroke-linecap="butt"/>
<line x1="1979.4" y1="712.3" x2="1979.4" y2="716" stroke="#7f7f7f" stroke-width="1.9" stroke-linecap="butt"/>
<line x1="1969.9" y1="712.3" x2="1988.9" y2="712.3" stroke="#7f7f7f" stroke-width="1.9" stroke-linecap="butt"/>
<line x1="1969.9" y1="716" x2="1988.9" y2="716" stroke="#7f7f7f" stroke-width="1.9" stroke-linecap="butt"/>
<polyline points="1663.9,991.8 1768.9,1012.8 1874.4,919.2 1979.4,714.2" fill="none" stroke="#000" stroke-width="3.4" stroke-linejoin="round" stroke-linecap="butt"/>
<circle cx="1663.9" cy="991.8" r="5.7" fill="#fff" stroke="#000" stroke-width="1.8"/>
<circle cx="1768.9" cy="1012.8" r="5.7" fill="#fff" stroke="#000" stroke-width="1.8"/>
<circle cx="1874.4" cy="919.2" r="5.7" fill="#fff" stroke="#000" stroke-width="1.8"/>
<circle cx="1979.4" cy="714.2" r="5.7" fill="#fff" stroke="#000" stroke-width="1.8"/>
<line x1="1663.9" y1="991.5" x2="1663.9" y2="994.7" stroke="#7f7f7f" stroke-width="1.9" stroke-linecap="butt"/>
<line x1="1654.4" y1="991.5" x2="1673.4" y2="991.5" stroke="#7f7f7f" stroke-width="1.9" stroke-linecap="butt"/>
<line x1="1654.4" y1="994.7" x2="1673.4" y2="994.7" stroke="#7f7f7f" stroke-width="1.9" stroke-linecap="butt"/>
<line x1="1769.2" y1="1015.5" x2="1769.2" y2="1018.8" stroke="#7f7f7f" stroke-width="1.9" stroke-linecap="butt"/>
<line x1="1759.7" y1="1015.5" x2="1778.7" y2="1015.5" stroke="#7f7f7f" stroke-width="1.9" stroke-linecap="butt"/>
<line x1="1759.7" y1="1018.8" x2="1778.7" y2="1018.8" stroke="#7f7f7f" stroke-width="1.9" stroke-linecap="butt"/>
<line x1="1874.4" y1="896.5" x2="1874.4" y2="901" stroke="#7f7f7f" stroke-width="1.9" stroke-linecap="butt"/>
<line x1="1864.9" y1="896.5" x2="1883.9" y2="896.5" stroke="#7f7f7f" stroke-width="1.9" stroke-linecap="butt"/>
<line x1="1864.9" y1="901" x2="1883.9" y2="901" stroke="#7f7f7f" stroke-width="1.9" stroke-linecap="butt"/>
<line x1="1979.4" y1="786.8" x2="1979.4" y2="797.6" stroke="#7f7f7f" stroke-width="1.9" stroke-linecap="butt"/>
<line x1="1969.9" y1="786.8" x2="1988.9" y2="786.8" stroke="#7f7f7f" stroke-width="1.9" stroke-linecap="butt"/>
<line x1="1969.9" y1="797.6" x2="1988.9" y2="797.6" stroke="#7f7f7f" stroke-width="1.9" stroke-linecap="butt"/>
<polyline points="1663.9,993.3 1769.2,1016.9 1874.4,897.5 1979.4,792.3" fill="none" stroke="#000" stroke-width="3.4" stroke-linejoin="round" stroke-linecap="butt"/>
<polygon points="1663.9,988.1 1669.5,999.5 1658.3,999.5" fill="#fff" stroke="#000" stroke-width="1.8" stroke-linejoin="miter"/>
<polygon points="1769.2,1011.7 1774.8,1023.1 1763.6,1023.1" fill="#fff" stroke="#000" stroke-width="1.8" stroke-linejoin="miter"/>
<polygon points="1874.4,892.3 1880,903.7 1868.8,903.7" fill="#fff" stroke="#000" stroke-width="1.8" stroke-linejoin="miter"/>
<polygon points="1979.4,787.1 1985,798.5 1973.8,798.5" fill="#fff" stroke="#000" stroke-width="1.8" stroke-linejoin="miter"/>
<text x="1771.7" y="1012.17" font-size="33.44" text-anchor="middle" >*</text>
<text x="1879.5" y="881.47" font-size="33.44" text-anchor="middle" >*</text>
<text x="1980.4" y="781.07" font-size="33.44" text-anchor="middle" >**</text>
<line x1="715" y1="36.3" x2="795" y2="36.3" stroke="#000" stroke-width="4" stroke-linecap="round"/>
<circle cx="754.2" cy="35.9" r="5.7" fill="#fff" stroke="#000" stroke-width="1.8"/>
<text x="803.86" y="48.3" font-size="33.44" text-anchor="start" font-family="'Noto Serif CJK SC','Liberation Serif',serif" >非遮光</text>
<text x="910.32" y="47.7" font-size="33.95" text-anchor="start" >Non-shading</text>
<line x1="1118" y1="36.3" x2="1197.5" y2="36.3" stroke="#000" stroke-width="4" stroke-linecap="round"/>
<polygon points="1157,30.6 1162.6,42 1151.4,42" fill="#fff" stroke="#000" stroke-width="1.8" stroke-linejoin="miter"/>
<text x="1205.83" y="48.3" font-size="33.44" text-anchor="start" font-family="'Noto Serif CJK SC','Liberation Serif',serif" >遮光</text>
<text x="1280.73" y="47.7" font-size="33.95" text-anchor="start" >Shading</text>
<text x="41.77" y="75" font-size="33.44" text-anchor="start" >A</text>
<text x="41.04" y="601.5" font-size="33.44" text-anchor="start" >B</text>
</svg>
</body></html>
